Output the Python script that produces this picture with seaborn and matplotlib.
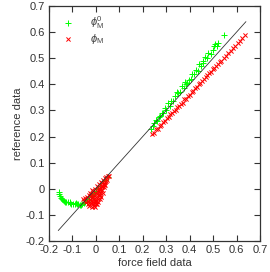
import numpy as np
import pandas as pd
import matplotlib
matplotlib.use('Agg')
import matplotlib.pyplot as plt
import seaborn as sns

sns.set_style('ticks')
plt.rcParams['font.family'] = ['Liberation Sans', 'DejaVu Sans']
plt.rcParams['mathtext.fontset'] = 'custom'
plt.rcParams['mathtext.rm'] = 'Liberation Sans'
plt.rcParams['mathtext.it'] = 'Liberation Sans:italic'

# phi_M^0 (green +)
green_x = [-0.158, -0.155, -0.152, -0.150, -0.146, -0.140, -0.135, -0.128, -0.120, -0.112,
           -0.105, -0.098, -0.090, -0.082, -0.075, -0.068, -0.060, -0.052, -0.045, -0.038,
           -0.030, -0.022, -0.015, -0.008, 0.000, 0.010, 0.020, 0.030, 0.040, 0.050,
           -0.130, -0.110, -0.085, -0.065, -0.040,
           0.235, 0.242, 0.250, 0.256, 0.262, 0.268, 0.275, 0.282, 0.288, 0.295,
           0.300, 0.308, 0.315, 0.322, 0.330, 0.338, 0.345, 0.352, 0.360, 0.368,
           0.375, 0.382, 0.390, 0.398, 0.405, 0.412, 0.420, 0.428, 0.435, 0.442,
           0.450, 0.458, 0.465, 0.472, 0.480, 0.490, 0.500, 0.510, 0.520, 0.547,
           0.385, 0.455, 0.505, 0.515]
green_y = [-0.012, -0.020, -0.028, -0.035, -0.040, -0.043, -0.046, -0.050, -0.052, -0.055,
           -0.058, -0.060, -0.057, -0.060, -0.058, -0.061, -0.057, -0.055, -0.050, -0.046,
           -0.040, -0.032, -0.024, -0.016, -0.008, 0.002, 0.012, 0.022, 0.035, 0.045,
           -0.052, -0.050, -0.055, -0.062, -0.040,
           0.228, 0.240, 0.250, 0.262, 0.258, 0.275, 0.280, 0.292, 0.290, 0.310,
           0.302, 0.328, 0.318, 0.338, 0.335, 0.355, 0.370, 0.365, 0.372, 0.392,
           0.385, 0.408, 0.405, 0.415, 0.420, 0.440, 0.438, 0.455, 0.452, 0.478,
           0.470, 0.482, 0.505, 0.500, 0.520, 0.515, 0.530, 0.555, 0.560, 0.590,
           0.400, 0.488, 0.545, 0.548]

# phi_M (red x)
red_x = [-0.055, -0.050, -0.045, -0.040, -0.038, -0.035, -0.032, -0.030, -0.028, -0.025,
         -0.022, -0.020, -0.018, -0.015, -0.012, -0.010, -0.008, -0.006, -0.004, -0.002,
         0.000, 0.002, 0.004, 0.006, 0.008, 0.010, 0.012, 0.014, 0.016, 0.018,
         0.020, 0.022, 0.024, 0.026, 0.028, 0.030, 0.032, 0.034, 0.036, 0.038,
         0.040, 0.042, 0.045, 0.048, 0.050, 0.055, -0.015, -0.025, 0.000, 0.010,
         -0.005, 0.020, 0.005, -0.010, 0.015, -0.020, -0.012, -0.003, 0.007, 0.018,
         0.025, 0.033, -0.030, 0.003, 0.012, -0.017, 0.028, 0.040, -0.008, 0.022,
         0.240, 0.250, 0.258, 0.265, 0.272, 0.280, 0.288, 0.295, 0.302, 0.310,
         0.318, 0.325, 0.332, 0.340, 0.348, 0.355, 0.362, 0.370, 0.378, 0.385,
         0.392, 0.400, 0.408, 0.415, 0.422, 0.430, 0.438, 0.445, 0.452, 0.460,
         0.468, 0.475, 0.482, 0.490, 0.498, 0.505, 0.512, 0.520, 0.528, 0.535,
         0.545, 0.555, 0.565, 0.575, 0.585, 0.595, 0.605, 0.615, 0.625, 0.636]
red_y = [-0.040, -0.045, -0.035, -0.050, -0.030, -0.060, -0.045, -0.025, -0.065, -0.040,
         -0.055, -0.020, -0.070, -0.035, -0.050, -0.010, -0.065, -0.025, -0.045, 0.000,
         -0.060, -0.015, -0.035, 0.010, -0.050, -0.005, -0.025, 0.018, -0.040, 0.005,
         -0.015, 0.025, -0.030, 0.012, -0.005, 0.032, -0.018, 0.020, 0.005, 0.040,
         0.015, 0.030, 0.045, 0.035, 0.050, 0.048, -0.005, -0.015, -0.030, -0.040,
         -0.055, 0.000, -0.020, -0.030, -0.010, -0.045, -0.060, -0.070, -0.060, -0.025,
         0.008, 0.015, -0.055, -0.045, 0.000, -0.022, 0.022, 0.025, -0.040, -0.008,
         0.208, 0.215, 0.228, 0.230, 0.240, 0.245, 0.256, 0.260, 0.270, 0.274,
         0.285, 0.290, 0.297, 0.302, 0.312, 0.318, 0.326, 0.330, 0.342, 0.345,
         0.356, 0.360, 0.372, 0.375, 0.385, 0.390, 0.400, 0.405, 0.413, 0.420,
         0.428, 0.435, 0.442, 0.448, 0.457, 0.462, 0.470, 0.476, 0.486, 0.490,
         0.500, 0.510, 0.520, 0.528, 0.540, 0.548, 0.558, 0.566, 0.578, 0.590]

diag = [-0.16, 0.64]
ticks = [-0.2, -0.1, 0, 0.1, 0.2, 0.3, 0.4, 0.5, 0.6, 0.7]
tick_labels = ['-0.2', '-0.1', '0', '0.1', '0.2', '0.3', '0.4', '0.5', '0.6', '0.7']

green = pd.DataFrame({'x': green_x, 'y': green_y})
red = pd.DataFrame({'x': red_x, 'y': red_y})

fig = plt.figure(figsize=(2.70, 2.72), dpi=100)
ax = fig.add_axes([0.181, 0.114, 0.782, 0.864])

sns.scatterplot(data=green, x='x', y='y', marker='+', color='#00ff00', s=14,
                linewidth=0.7, label=r'$\phi^{0}_\mathrm{M}$', ax=ax)
sns.scatterplot(data=red, x='x', y='y', marker='x', color='#ff0000', s=9,
                linewidth=0.7, label=r'$\phi_\mathrm{M}$', ax=ax)
sns.lineplot(x=diag, y=diag, color='#333333', linewidth=0.6, ax=ax)

ax.set_xlim(-0.2, 0.7)
ax.set_ylim(-0.2, 0.7)
ax.set_xticks(ticks)
ax.set_xticklabels(tick_labels)
ax.set_yticks(ticks)
ax.set_yticklabels(tick_labels)
ax.tick_params(direction='in', length=4, width=0.8, top=True, right=True,
               labelsize=8, colors='#333333', pad=3)
for sp in ax.spines.values():
    sp.set_visible(True)
    sp.set_linewidth(0.9)
    sp.set_color('#333333')
ax.set_xlabel('force field data', fontsize=8, color='#333333', labelpad=2)
ax.set_ylabel('reference data', fontsize=8, color='#333333', labelpad=2)

leg = ax.legend(loc='upper left', bbox_to_anchor=(0.0, 1.0), frameon=False,
                fontsize=8, handletextpad=1.0, labelspacing=0.1, borderaxespad=0.3)
for t in leg.get_texts():
    t.set_color('#444444')

fig.savefig('out.png', dpi=100)
